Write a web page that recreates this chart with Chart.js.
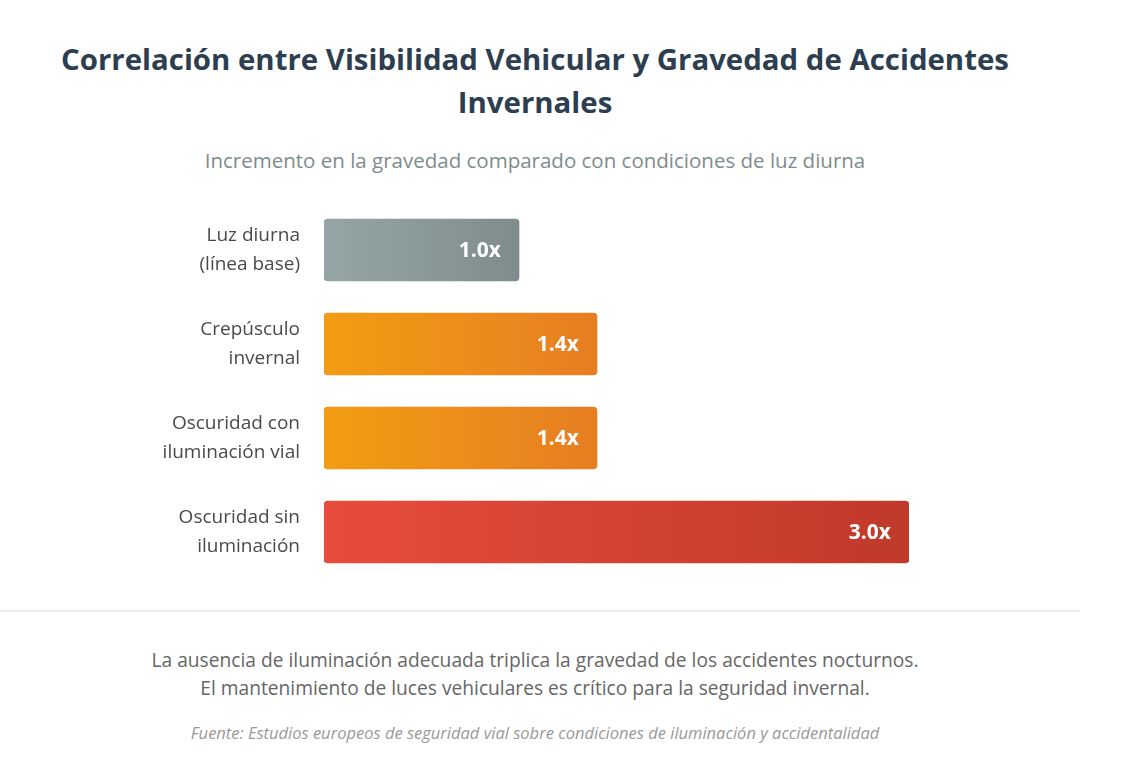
<!DOCTYPE html>
<html lang="es">
<head>
<meta charset="utf-8">
<script src="https://cdn.jsdelivr.net/npm/chart.js@4.4.1/dist/chart.umd.min.js"></script>
<style>
    html, body { margin: 0; padding: 0; background: #fff; }
    body { width: 1134px; height: 778px; position: relative; overflow: hidden; font-family: "Open Sans", "Noto Sans", sans-serif; }
    .txt { position: absolute; left: 0; width: 1070px; text-align: center; margin: 0; }
    #title { top: 38px; font-size: 29.4px; line-height: 43px; font-weight: 700; color: #2c3e50; }
    #subtitle { top: 146px; font-size: 20.5px; line-height: 28px; color: #7f8c8d; }
    #chartBox { position: absolute; left: 0; top: 203px; width: 1134px; height: 376px; }
    #sep { position: absolute; left: 0; top: 610px; width: 1080px; height: 2px; background: #ececec; }
    #note { top: 646px; font-size: 19.2px; line-height: 28px; color: #666; }
    #source { top: 722px; font-size: 16.5px; line-height: 22px; color: #999; font-style: italic; }
</style>
</head>
<body>
<h1 class="txt" id="title">Correlación entre Visibilidad Vehicular y Gravedad de Accidentes<br>Invernales</h1>
<p class="txt" id="subtitle">Incremento en la gravedad comparado con condiciones de luz diurna</p>
<div id="chartBox"><canvas id="myChart"></canvas></div>
<div id="sep"></div>
<p class="txt" id="note">La ausencia de iluminación adecuada triplica la gravedad de los accidentes nocturnos.<br>El mantenimiento de luces vehiculares es crítico para la seguridad invernal.</p>
<p class="txt" id="source">Fuente: Estudios europeos de seguridad vial sobre condiciones de iluminación y accidentalidad</p>

<script>
//--- Data
var categories = [
    ['Luz diurna', '(línea base)'],
    ['Crepúsculo', 'invernal'],
    ['Oscuridad con', 'iluminación vial'],
    ['Oscuridad sin', 'iluminación']
];
var severity = [1.0, 1.4, 1.4, 3.0];
var valueLabels = ['1.0x', '1.4x', '1.4x', '3.0x'];
var gradientStops = [
    ['#95a5a6', '#7f8c8d'],
    ['#f39c12', '#e67e22'],
    ['#f39c12', '#e67e22'],
    ['#e74c3c', '#c0392b']
];

//--- Bar gradient, left to right along each bar
function barColor(context) {
    var chart = context.chart;
    var i = context.dataIndex;
    if (!chart.chartArea || i === undefined) return gradientStops[i || 0][0];
    var xs = chart.scales.x;
    var x0 = xs.getPixelForValue(0);
    var x1 = xs.getPixelForValue(severity[i]);
    var g = chart.ctx.createLinearGradient(x0, 0, x1, 0);
    g.addColorStop(0, gradientStops[i][0]);
    g.addColorStop(1, gradientStops[i][1]);
    return g;
}

//--- Value labels inside the bars
var valueLabelPlugin = {
    id: 'valueLabels',
    afterDatasetsDraw: function (chart) {
        var ctx = chart.ctx;
        var meta = chart.getDatasetMeta(0);
        ctx.save();
        ctx.font = 'bold 21px "Open Sans", sans-serif';
        ctx.fillStyle = '#ffffff';
        ctx.textAlign = 'right';
        ctx.textBaseline = 'middle';
        meta.data.forEach(function (bar, i) {
            ctx.fillText(valueLabels[i], bar.x - 18, bar.y + 1);
        });
        ctx.restore();
    }
};

var ctx = document.getElementById('myChart');
var chart = new Chart(ctx, {
    type: 'bar',
    data: {
        labels: categories,
        datasets: [{
            data: severity,
            backgroundColor: barColor,
            borderRadius: 4,
            borderSkipped: false,
            barThickness: 62
        }]
    },
    options: {
        indexAxis: 'y',
        responsive: true,
        maintainAspectRatio: false,
        animation: false,
        layout: { padding: { left: 0, right: 225, top: 0, bottom: 0 } },
        plugins: {
            legend: { display: false },
            tooltip: { enabled: false }
        },
        scales: {
            x: {
                display: false,
                min: 0,
                max: 3.0
            },
            y: {
                grid: { display: false },
                border: { display: false },
                ticks: {
                    color: '#4a4a4a',
                    padding: 16,
                    font: { family: '"Open Sans", sans-serif', size: 19, lineHeight: 1.5 }
                },
                afterFit: function (scale) {
                    scale.width = 324;
                    scale.paddingTop = 0;
                    scale.paddingBottom = 0;
                }
            }
        }
    },
    plugins: [valueLabelPlugin]
});
</script>
</body>
</html>
